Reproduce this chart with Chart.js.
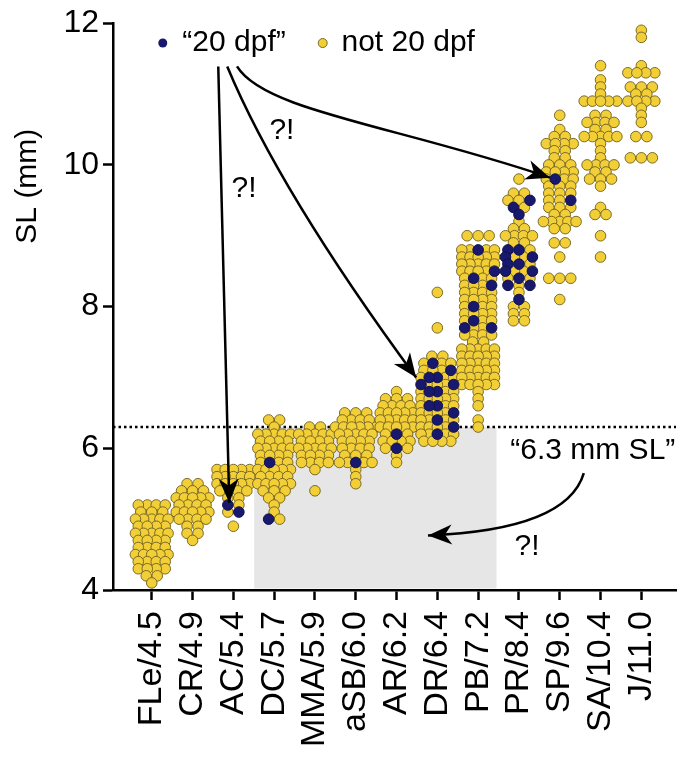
<!DOCTYPE html>
<html lang="en">

<head>
    <meta charset="UTF-8">
    <title>SL por estágio</title>
    <script src="https://cdn.jsdelivr.net/npm/chart.js"></script>
    <style>
        body { margin: 0; background: #fff; }
    </style>
</head>

<body>
    <canvas id="grafico" width="694" height="757"></canvas>

    <script>
        // stage / mean SL
        const categorias = ['FLe/4.5', 'CR/4.9', 'AC/5.4', 'DC/5.7', 'MMA/5.9', 'aSB/6.0', 'AR/6.2',
            'DR/6.4', 'PB/7.2', 'PR/8.4', 'SP/9.6', 'SA/10.4', 'J/11.0'];
        const yTicks = [4, 6, 8, 10, 12];

        // "not 20 dpf" fish: [SL (mm), number of fish] per stage
        const naoDpf = [
            [[5.2, 4], [5.1, 3], [5.0, 5], [4.9, 4], [4.8, 5], [4.7, 4], [4.6, 4], [4.5, 5], [4.4, 4], [4.3, 4], [4.2, 2], [4.1, 1]],
            [[5.5, 2], [5.4, 3], [5.3, 5], [5.2, 4], [5.1, 5], [5.0, 4], [4.9, 2], [4.8, 2], [4.7, 1]],
            [[5.7, 5], [5.6, 5], [5.5, 5], [5.4, 4], [5.3, 2], [5.2, 1], [5.1, 1], [4.9, 1]],
            [[6.4, 2], [6.3, 1], [6.2, 5], [6.1, 4], [6.0, 5], [5.9, 4], [5.8, 3], [5.7, 5], [5.6, 4], [5.5, 5], [5.4, 3], [5.3, 2], [5.2, 1], [5.1, 1], [5.0, 1]],
            [[6.3, 2], [6.2, 5], [6.1, 4], [6.0, 5], [5.9, 4], [5.8, 4], [5.7, 1], [5.4, 1]],
            [[6.5, 3], [6.4, 4], [6.3, 6], [6.2, 5], [6.1, 4], [6.0, 4], [5.9, 3], [5.8, 4], [5.7, 1], [5.6, 1], [5.5, 1]],
            [[6.8, 1], [6.7, 3], [6.6, 4], [6.5, 5], [6.4, 5], [6.3, 5], [6.2, 2], [6.1, 4], [6.0, 2], [5.9, 1], [5.8, 1]],
            [[8.2, 1], [7.7, 1], [7.3, 2], [7.2, 3], [7.1, 3], [7.0, 3], [6.9, 3], [6.8, 3], [6.7, 5], [6.6, 3], [6.5, 4], [6.4, 4], [6.3, 4], [6.2, 4], [6.1, 4]],
            [[9.0, 3], [8.8, 4], [8.7, 5], [8.6, 5], [8.5, 4], [8.4, 3], [8.3, 3], [8.2, 4], [8.1, 4], [8.0, 3], [7.9, 4], [7.8, 3], [7.7, 2], [7.6, 4], [7.5, 2],
                [7.4, 5], [7.3, 5], [7.2, 5], [7.1, 5], [7.0, 5], [6.9, 5], [6.8, 1], [6.7, 1], [6.6, 1], [6.4, 1], [6.3, 1]],
            [[9.8, 1], [9.6, 2], [9.5, 2], [9.4, 1], [9.2, 1], [9.1, 2], [9.0, 4], [8.9, 2], [8.8, 1], [8.7, 2], [8.6, 1], [8.5, 2], [8.4, 2], [8.3, 1], [8.2, 1], [8.0, 2], [7.9, 2], [7.8, 2]],
            [[10.7, 1], [10.5, 1], [10.4, 2], [10.3, 4], [10.2, 2], [10.1, 2], [10.0, 3], [9.9, 4], [9.8, 3], [9.7, 3], [9.6, 3], [9.5, 2], [9.4, 3], [9.3, 2], [9.2, 5],
                [9.1, 2], [8.9, 2], [8.7, 1], [8.4, 3], [8.1, 1]],
            [[11.4, 1], [11.2, 1], [11.1, 1], [11.0, 1], [10.9, 5], [10.7, 2], [10.6, 4], [10.5, 2], [10.4, 5], [10.3, 1], [10.2, 1], [10.1, 1], [10.0, 4], [9.9, 2],
                [9.8, 3], [9.7, 1], [9.4, 1], [9.3, 2], [9.0, 1], [8.7, 1]],
            [[11.9, 1], [11.8, 1], [11.4, 1], [11.3, 4], [11.1, 3], [11.0, 2], [10.9, 4], [10.8, 1], [10.7, 1], [10.6, 1], [10.4, 2], [10.1, 3]]
        ];

        // "20 dpf" fish: SL (mm) of each one, per stage
        const dpf20 = [
            [], [], [5.2, 5.1], [5.8, 5.0], [], [5.8], [6.2, 6.0],
            [7.2, 7.1, 7.0, 7.0, 6.9, 6.9, 6.8, 6.8, 6.6, 6.6, 6.5, 6.4, 6.3, 6.2],
            [8.8, 8.5, 8.4, 8.3, 8.0, 7.8, 7.7, 7.7],
            [9.5, 9.4, 9.3, 8.8, 8.8, 8.7, 8.7, 8.6, 8.6, 8.5, 8.5, 8.4, 8.3, 8.3, 8.1],
            [9.8, 9.5], [], []
        ];

        const limiteSL = 6.3;

        // spread fish with the same SL side by side (beeswarm rows)
        function montarPontos() {
            const amarelos = [];
            const azuis = [];
            categorias.forEach((cat, c) => {
                const linhas = {};
                naoDpf[c].forEach(([sl, n]) => {
                    const k = sl.toFixed(1);
                    linhas[k] = linhas[k] || { sl: sl, y: 0, n: 0 };
                    linhas[k].y += n;
                });
                dpf20[c].forEach(sl => {
                    const k = sl.toFixed(1);
                    linhas[k] = linhas[k] || { sl: sl, y: 0, n: 0 };
                    linhas[k].n += 1;
                });
                Object.values(linhas).forEach(l => {
                    const total = l.y + l.n;
                    const gap = total >= 5 ? 0.2 : (total === 4 ? 0.22 : 0.27);
                    const idx = [...Array(total).keys()];
                    const meio = (total - 1) / 2;
                    idx.sort((a, b) => Math.abs(a - meio) - Math.abs(b - meio));
                    if (Math.round(l.sl * 10) % 2) idx.reverse();
                    idx.forEach((slot, j) => {
                        const p = { x: c + (slot - meio) * gap, y: l.sl };
                        if (j < l.n) azuis.push(p); else amarelos.push(p);
                    });
                });
            });
            return { amarelos, azuis };
        }

        const pontos = montarPontos();
        const fonte = 'Liberation Sans, Arial, Helvetica, sans-serif';

        function desenharSeta(ctx, pts) {
            ctx.beginPath();
            ctx.moveTo(pts[0][0], pts[0][1]);
            if (pts.length === 2) ctx.lineTo(pts[1][0], pts[1][1]);
            if (pts.length === 3) ctx.quadraticCurveTo(pts[1][0], pts[1][1], pts[2][0], pts[2][1]);
            if (pts.length === 4) ctx.bezierCurveTo(pts[1][0], pts[1][1], pts[2][0], pts[2][1], pts[3][0], pts[3][1]);
            ctx.stroke();
            const tip = pts[pts.length - 1];
            const prev = pts[pts.length - 2];
            const ang = Math.atan2(tip[1] - prev[1], tip[0] - prev[0]);
            ctx.save();
            ctx.translate(tip[0], tip[1]);
            ctx.rotate(ang);
            ctx.beginPath();
            ctx.moveTo(0, 0);
            ctx.lineTo(-24, -10);
            ctx.lineTo(-17, 0);
            ctx.lineTo(-24, 10);
            ctx.closePath();
            ctx.fill();
            ctx.restore();
        }

        const anotacoes = {
            id: 'anotacoes',
            beforeDatasetsDraw(chart) {
                const { ctx, chartArea, scales: { x, y } } = chart;
                ctx.save();
                const x0 = x.getPixelForValue(2.51);
                const x1 = x.getPixelForValue(8.45);
                const yTop = y.getPixelForValue(limiteSL);
                ctx.fillStyle = '#e6e6e6';
                ctx.fillRect(x0, yTop, x1 - x0, chartArea.bottom - 1.5 - yTop);
                ctx.strokeStyle = '#000';
                ctx.lineWidth = 2.5;
                ctx.setLineDash([2.5, 3]);
                ctx.beginPath();
                ctx.moveTo(chartArea.left, yTop);
                ctx.lineTo(chartArea.right, yTop);
                ctx.stroke();
                ctx.restore();
            },
            afterDatasetsDraw(chart) {
                const { ctx, scales: { x, y } } = chart;
                const P = (a, b) => [x.getPixelForValue(a), y.getPixelForValue(b)];
                ctx.save();
                ctx.strokeStyle = '#000';
                ctx.fillStyle = '#000';
                ctx.lineWidth = 2.5;
                desenharSeta(ctx, [P(1.63, 11.39), P(1.90, 5.23)]);
                desenharSeta(ctx, [P(1.85, 11.39), P(3.12, 9.63), P(6.48, 7.0)]);
                desenharSeta(ctx, [P(2.09, 11.39), P(2.75, 10.76), P(6.04, 10.55), P(9.76, 9.82)]);
                desenharSeta(ctx, [P(10.59, 5.65), P(10.18, 4.85), P(6.77, 4.77)]);

                ctx.font = '30px ' + fonte;
                ctx.textAlign = 'center';
                ctx.textBaseline = 'middle';
                let p = P(2.26, 9.66); ctx.fillText('?!', p[0], p[1]);
                p = P(3.19, 10.48); ctx.fillText('?!', p[0], p[1]);
                p = P(9.2, 4.61); ctx.fillText('?!', p[0], p[1]);
                p = P(10.81, 5.96); ctx.fillText('\u201C6.3 mm SL\u201D', p[0], p[1]);

                // legend
                ctx.textAlign = 'left';
                p = P(0.27, 11.72);
                ctx.fillStyle = '#17186e';
                ctx.beginPath(); ctx.arc(p[0], p[1], 4.5, 0, Math.PI * 2); ctx.fill();
                ctx.fillStyle = '#000';
                p = P(0.75, 11.72); ctx.fillText('\u201C20 dpf\u201D', p[0], p[1]);
                p = P(4.19, 11.72);
                ctx.fillStyle = '#f2cf36';
                ctx.strokeStyle = '#7a6a26';
                ctx.lineWidth = 1;
                ctx.beginPath(); ctx.arc(p[0], p[1], 4.5, 0, Math.PI * 2); ctx.fill(); ctx.stroke();
                ctx.fillStyle = '#000';
                p = P(4.65, 11.72); ctx.fillText('not 20 dpf', p[0], p[1]);
                ctx.restore();
            },
            afterDraw(chart) {
                const { ctx, scales: { y } } = chart;
                ctx.save();
                ctx.translate(28, y.getPixelForValue(9.7));
                ctx.rotate(-Math.PI / 2);
                ctx.font = '30px ' + fonte;
                ctx.fillStyle = '#000';
                ctx.textAlign = 'center';
                ctx.textBaseline = 'middle';
                ctx.fillText('SL (mm)', 0, 0);
                ctx.restore();
            }
        };

        Chart.defaults.font.family = fonte;
        Chart.defaults.color = '#000';

        const eixo = {
            grid: { drawOnChartArea: false, drawTicks: true, tickLength: 10, tickWidth: 2.5, color: '#000' },
            border: { display: true, color: '#000', width: 2.5 }
        };

        new Chart(document.getElementById('grafico'), {
            type: 'scatter',
            data: {
                datasets: [{
                    label: '\u201C20 dpf\u201D',
                    data: pontos.azuis,
                    backgroundColor: '#17186e',
                    borderColor: '#10114a',
                    borderWidth: 1,
                    pointRadius: 5.3
                }, {
                    label: 'not 20 dpf',
                    data: pontos.amarelos,
                    backgroundColor: '#f2cf36',
                    borderColor: '#7a6a26',
                    borderWidth: 1,
                    pointRadius: 5.3
                }]
            },
            options: {
                responsive: false,
                animation: false,
                devicePixelRatio: 1,
                layout: { padding: { top: 22, right: 14, left: 0, bottom: 0 } },
                plugins: { legend: { display: false }, tooltip: { enabled: false } },
                scales: {
                    x: {
                        ...eixo,
                        type: 'linear',
                        min: -0.95,
                        max: 12.85,
                        afterBuildTicks: s => { s.ticks = categorias.map((_, i) => ({ value: i })); },
                        afterFit: s => { s.height = 167; },
                        ticks: {
                            autoSkip: false,
                            minRotation: 90,
                            maxRotation: 90,
                            padding: 11,
                            font: { size: 34 },
                            callback: v => categorias[v]
                        }
                    },
                    y: {
                        ...eixo,
                        min: 4,
                        max: 12,
                        afterBuildTicks: s => { s.ticks = yTicks.map(v => ({ value: v })); },
                        afterFit: s => { s.width = 113; },
                        ticks: { padding: 4, font: { size: 32 } }
                    }
                }
            },
            plugins: [anotacoes]
        });
    </script>
</body>

</html>
